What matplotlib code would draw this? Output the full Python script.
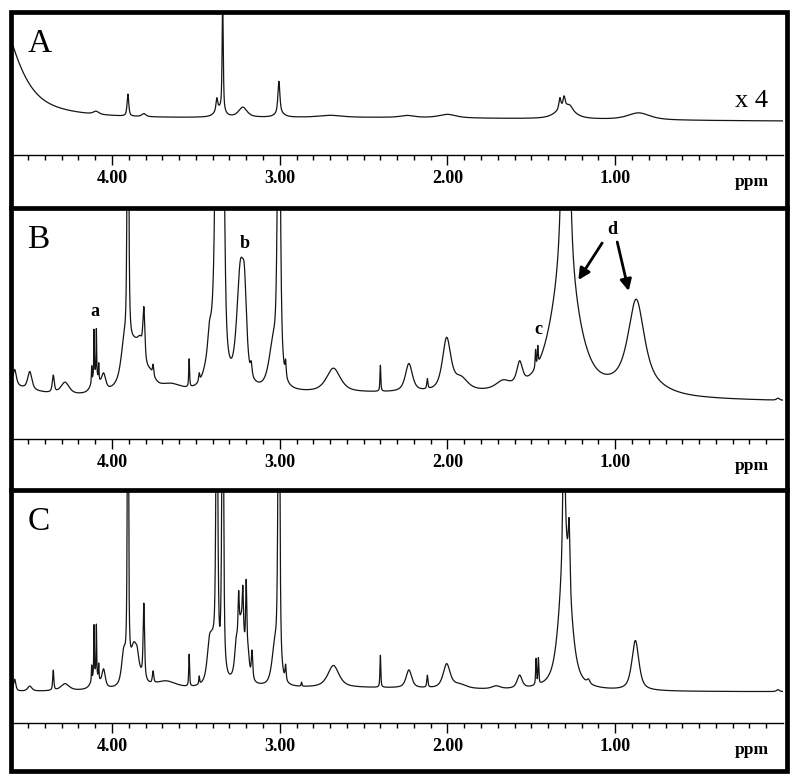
import numpy as np
import matplotlib
matplotlib.use('Agg')
import matplotlib.pyplot as plt
from matplotlib.lines import Line2D
from matplotlib.patches import Rectangle

plt.rcParams['font.family'] = ['Liberation Serif', 'DejaVu Serif']

#%% peak tables (ppm, height above baseline, half width in ppm)
# heights are in pixel-like units above the ppm axis line of each panel

offset_A = 33
ppm_A = [4.75, 2.5, 4.095, 3.905, 3.81, 3.375, 3.34, 3.36, 3.22, 3.005, 3.00,
         2.70, 2.24, 2.00, 1.33, 1.305, 1.30, 1.27, 0.86]
height_A = [150, 4, 3, 22, 3, 12, 110, 8, 10, 32, 4,
            2, 2, 3.5, 11, 10, 12, 4, 7]
width_A = [0.16, 1.5, 0.02, 0.006, 0.015, 0.006, 0.004, 0.03, 0.03, 0.007, 0.03,
           0.08, 0.05, 0.06, 0.007, 0.007, 0.06, 0.02, 0.08]

offset_B = 35
ppm_B = [4.75, 2.5, 4.58, 4.49, 4.35, 4.28, 4.121, 4.107, 4.093, 4.079, 4.10, 4.05,
         3.93, 3.905, 3.87, 3.83, 3.81, 3.77, 3.755, 3.65, 3.54, 3.48,
         3.42, 3.40, 3.375, 3.34, 3.235, 3.21, 3.17, 3.04, 3.005, 2.965,
         2.68, 2.40, 2.23, 2.12, 2.005, 1.92, 1.67, 1.57, 1.475, 1.462,
         1.30, 1.295, 0.875, 0.87, 0.03]
height_B = [20, 10, 16, 18, 17, 12, 16, 46, 46, 16, 18, 16,
            25, 400, 48, 18, 50, 10, 10, 8, 28, 8,
            15, 45, 350, 350, 112, 65, 12, 40, 400, 15,
            24, 26, 28, 10, 52, 12, 8, 22, 18, 18,
            110, 480, 80, 15, 2]
width_B = [0.25, 1.6, 0.012, 0.015, 0.007, 0.03, 0.002, 0.002, 0.002, 0.002, 0.025, 0.015,
           0.02, 0.005, 0.06, 0.02, 0.007, 0.03, 0.004, 0.08, 0.003, 0.004,
           0.01, 0.04, 0.011, 0.011, 0.025, 0.015, 0.006, 0.03, 0.009, 0.004,
           0.05, 0.003, 0.025, 0.004, 0.03, 0.05, 0.05, 0.02, 0.003, 0.003,
           0.10, 0.018, 0.055, 0.15, 0.01]

offset_C = 31
ppm_C = [2.6, 4.58, 4.49, 4.35, 4.28, 4.121, 4.107, 4.093, 4.079, 4.10, 4.05,
         3.93, 3.905, 3.87, 3.85, 3.86, 3.81, 3.755, 3.68, 3.54, 3.48,
         3.42, 3.40, 3.375, 3.34, 3.26, 3.245, 3.22, 3.20, 3.23, 3.19, 3.165,
         3.03, 3.005, 2.965, 2.87, 2.68, 2.40, 2.23, 2.12, 2.005, 1.93, 1.71, 1.57,
         1.472, 1.458, 1.298, 1.306, 1.275, 1.16, 0.88, 0.03]
height_C = [4, 12, 5, 20, 7, 15, 50, 50, 15, 15, 18,
            30, 400, 22, 10, 20, 75, 12, 8, 32, 8,
            25, 35, 350, 350, 20, 40, 40, 70, 65, 20, 28,
            35, 400, 15, 4, 22, 32, 18, 12, 24, 4, 3, 13,
            26, 26, 140, 150, 60, 4, 50, 2]
width_C = [0.8, 0.008, 0.015, 0.004, 0.03, 0.002, 0.002, 0.002, 0.002, 0.025, 0.012,
           0.015, 0.004, 0.02, 0.01, 0.04, 0.005, 0.005, 0.08, 0.003, 0.003,
           0.015, 0.025, 0.006, 0.006, 0.01, 0.004, 0.004, 0.004, 0.025, 0.01, 0.005,
           0.02, 0.006, 0.004, 0.003, 0.04, 0.003, 0.02, 0.004, 0.025, 0.05, 0.03, 0.018,
           0.003, 0.003, 0.04, 0.007, 0.006, 0.01, 0.025, 0.01]

major_ticks = [4.0, 3.0, 2.0, 1.0]
major_labels = ['4.00', '3.00', '2.00', '1.00']
panel_letters = ['A', 'B', 'C']

#%%
def spectrum(x, ppm, height, width, offset, eta=0.7):
    y = np.full_like(x, float(offset))
    for p, h, w in zip(ppm, height, width):
        d = (x - p) / w
        y += h * (eta / (1 + d**2) + (1 - eta) * np.exp(-np.log(2) * d**2))
    return y

W, H = 800, 780
fig = plt.figure(figsize=(W/100, H/100), dpi=100)

x = np.linspace(4.59, 0.0, 20000)
x_left, x_right = 13, 783
# (top, axis line) in pixels for each panel
rows = [(13.5, 155), (210, 439), (492, 723)]
data = [(ppm_A, height_A, width_A, offset_A),
        (ppm_B, height_B, width_B, offset_B),
        (ppm_C, height_C, width_C, offset_C)]

axes = []
for (top, bot), (p, h, w, off), letter in zip(rows, data, panel_letters):
    ax = fig.add_axes([x_left/W, 1-bot/H, (x_right-x_left)/W, (bot-top)/H])
    y = spectrum(x, p, h, w, off)
    ax.plot(x, y, color='#151515', lw=0.9)
    ax.set_xlim(4.59, 0.0)
    ax.set_ylim(0, bot-top)
    for s in ['top', 'left', 'right']:
        ax.spines[s].set_visible(False)
    ax.spines['bottom'].set_linewidth(1.0)
    ax.set_yticks([])
    ax.set_xticks(major_ticks)
    ax.set_xticklabels(major_labels, fontsize=13, fontweight='bold')
    ax.set_xticks([t/10 for t in range(1, 46) if t % 10 != 0], minor=True)
    ax.tick_params(axis='x', which='major', direction='out', length=7, width=1.0, pad=4)
    ax.tick_params(axis='x', which='minor', direction='out', length=3.5, width=1.0)
    ax.patch.set_visible(False)
    ax.text(0.183, -27, 'ppm', fontsize=12.5, fontweight='bold', ha='center', va='center', clip_on=False)
    ax.text(4.505, bot-top-38, letter, fontsize=24, ha='left', va='baseline')
    axes.append(ax)

axA, axB, axC = axes
axA.text(0.09, 155-107, 'x 4', fontsize=19, ha='right', va='baseline')

# labels in panel B
lab = dict(fontsize=13, fontweight='bold', ha='center', va='center')
axB.text(4.10, 128, 'a', **lab)
axB.text(3.207, 196, 'b', **lab)
axB.text(1.46, 109, 'c', **lab)
axB.text(1.02, 209, 'd', **lab)
arr = dict(arrowstyle='-|>', lw=2, color='k', mutation_scale=17, shrinkA=0, shrinkB=0)
axB.annotate('', xy=(1.22, 159), xytext=(1.078, 196), arrowprops=arr)
axB.annotate('', xy=(0.92, 148), xytext=(0.988, 197), arrowprops=arr)

# outer frame and panel separators
fig.add_artist(Rectangle((11/W, 1-770.5/H), (786.5-11)/W, (770.5-11.5)/H,
                         transform=fig.transFigure, fill=False, lw=3.4, ec='k'))
for ys in [208, 490]:
    fig.add_artist(Line2D([11/W, 786.5/W], [1-ys/H, 1-ys/H], transform=fig.transFigure,
                          lw=3.4, color='k'))

fig.savefig('out.png', dpi=100)
